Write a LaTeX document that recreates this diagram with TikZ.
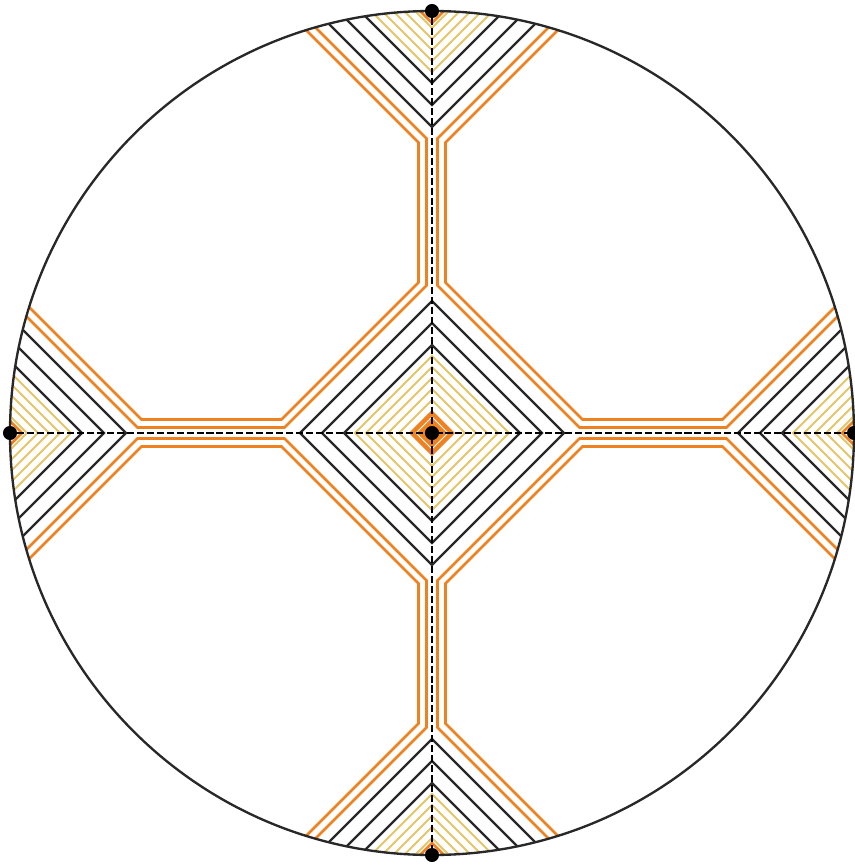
\documentclass[tikz,border=0pt]{standalone}
\definecolor{contorange}{RGB}{238,130,32}
\definecolor{contyellow}{RGB}{228,198,104}
\definecolor{contblack}{RGB}{40,40,40}
\begin{document}
\begin{tikzpicture}[x=0.03cm,y=0.03cm,
    site/.style={circle,fill=black,minimum size=12pt,inner sep=0pt},
    blackline/.style={draw=contblack,line width=2.1pt},
    yellowline/.style={draw=contyellow,line width=1.8pt},
    orangeline/.style={draw=contorange,line width=2.2pt},
    axis/.style={draw=black,line width=1.3pt,dash pattern=on 6pt off 2.5pt}]
\useasboundingbox (-432,-432) rectangle (422,433);
\begin{scope}
\clip (0,0) circle (422);
\foreach \a in {0,90,180,270} {
  \begin{scope}[rotate=\a]
    \foreach \d in {17,28,39,50,61}
      \draw[yellowline] ({-200},{622-\d}) -- (0,{422-\d}) -- (200,{622-\d});
    \foreach \d in {72,94,116}
      \draw[blackline] ({-200},{622-\d}) -- (0,{422-\d}) -- (200,{622-\d});
    \draw[orangeline] ({-200},610) -- (0,410) -- (200,610);
    \draw[orangeline] (205.5,494.5) -- (5.5,294.5) -- (5.5,147.5) -- (147.5,5.5)
      -- (294.5,5.5) -- (494.5,205.5);
    \draw[orangeline] (213.5,490.5) -- (13.5,290.5) -- (13.5,150.5) -- (150.5,13.5)
      -- (290.5,13.5) -- (490.5,213.5);
  \end{scope}
}
\foreach \r in {33,44,55,66,77}
  \draw[yellowline] (\r,0) -- (0,\r) -- (-\r,0) -- (0,-\r) -- cycle;
\foreach \r in {88,110,132}
  \draw[blackline] (\r,0) -- (0,\r) -- (-\r,0) -- (0,-\r) -- cycle;
\fill[contorange] (23,0) -- (0,23) -- (-23,0) -- (0,-23) -- cycle;
\draw[white,line width=0.7pt] (16,0) -- (0,16) -- (-16,0) -- (0,-16) -- cycle;
\end{scope}
\draw[contblack,line width=2pt] (0,0) circle (422);
\node[site] (c) at (0,0) {};
\node[site] (t) at (0,422) {};
\node[site] (b) at (0,-422) {};
\node[site] (l) at (-422,0) {};
\node[site] (r) at (422,0) {};
\draw[axis] (l) -- (r);
\draw[axis] (t) -- (b);
\end{tikzpicture}
\end{document}
